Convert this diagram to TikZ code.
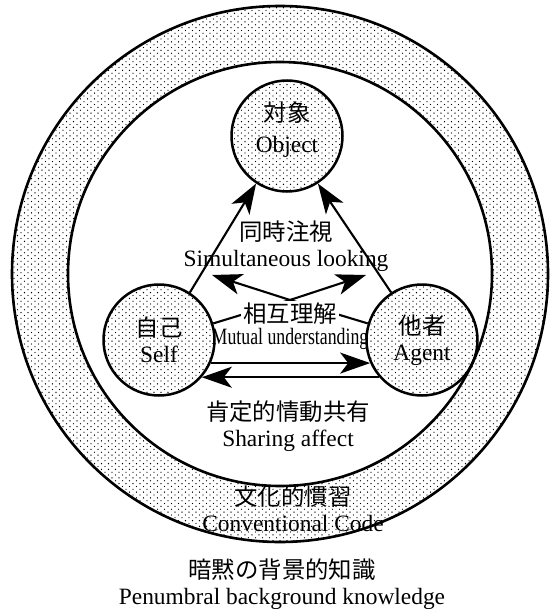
\documentclass[tikz,border=0pt]{standalone}
\usepackage{graphicx}
\usepackage{fontspec}
\setmainfont{Liberation Serif}
\newfontfamily\cjk{Noto Sans CJK JP}
\usetikzlibrary{arrows.meta,patterns}
\pgfdeclarepatternformonly{mydots}{\pgfqpoint{-0.5pt}{-0.5pt}}{\pgfqpoint{3pt}{2.35pt}}{\pgfqpoint{3.5pt}{2.85pt}}{%
  \pgfpathcircle{\pgfqpoint{0pt}{0pt}}{0.34pt}%
  \pgfpathcircle{\pgfqpoint{1.75pt}{1.425pt}}{0.34pt}%
  \pgfusepath{fill}}
\begin{document}
\begin{tikzpicture}[x=0.5pt,y=-0.5pt,
  ring/.style={line width=1.3pt},
  disc/.style={circle, draw, line width=1.25pt, minimum size=55.5pt, inner sep=0pt, pattern=mydots, align=center, font=\fontsize{11.7}{13}\selectfont},
  lbl/.style={align=center, inner sep=0pt, font=\fontsize{11.7}{13}\selectfont},
  arr/.style={line width=1.05pt, -{Stealth[length=15pt,width=10.5pt,inset=4pt]}},
  ln/.style={line width=1.05pt}]
\useasboundingbox (0,0) rectangle (560,609);
% outer ring
\fill[pattern=mydots, even odd rule] (280,274) circle[radius=134pt] (280,274) circle[radius=106pt];
\draw[ring] (280,274) circle[radius=134pt];
\draw[ring] (280,274) circle[radius=106pt];
% three circles
\node[disc] (object) at (287,136) {};
\node[lbl, font=\fontsize{11.7}{15.5}\selectfont] (objtext) at (287,130) {{\cjk 対象}\\Object};
\node[disc] (self) at (159,340) {{\cjk 自己}\\Self};
\node[disc] (agent) at (422,340) {{\cjk 他者}\\Agent};
% simultaneous looking
\draw[arr] (self.57) -- (object.237);
\draw[arr] (agent.123) -- (object.303);
\node[lbl] (sim) at (286,246) {{\cjk 同時注視}\\Simultaneous looking};
% mutual understanding
\coordinate (m) at (290,300);
\coordinate (ml) at (212,275);
\coordinate (mr) at (366,275);
\draw[ln] (self.17) -- (m) -- (agent.163);
\draw[arr] (m) -- (ml);
\draw[arr] (m) -- (mr);
\node[lbl, fill=white, inner sep=1pt] (mu1) at (290,314) {\cjk 相互理解};
\node[lbl] (mu2) at (290,339) {\scalebox{0.76}[1]{\fontsize{11.7}{13}\selectfont Mutual understanding}};
% sharing affect
\draw[arr] (self.-24) -- (agent.204);
\draw[arr] (agent.221) -- (self.-41);
\node[lbl] (sh) at (288,426) {{\cjk 肯定的情動共有}\\Sharing affect};
% conventional code
\node[lbl] (cc) at (293,509) {{\cjk 文化的慣習}\\Conventional Code};
% penumbral
\node[lbl] (pb) at (282,584) {{\cjk 暗黙の背景的知識}\\Penumbral background knowledge};
\end{tikzpicture}
\end{document}
